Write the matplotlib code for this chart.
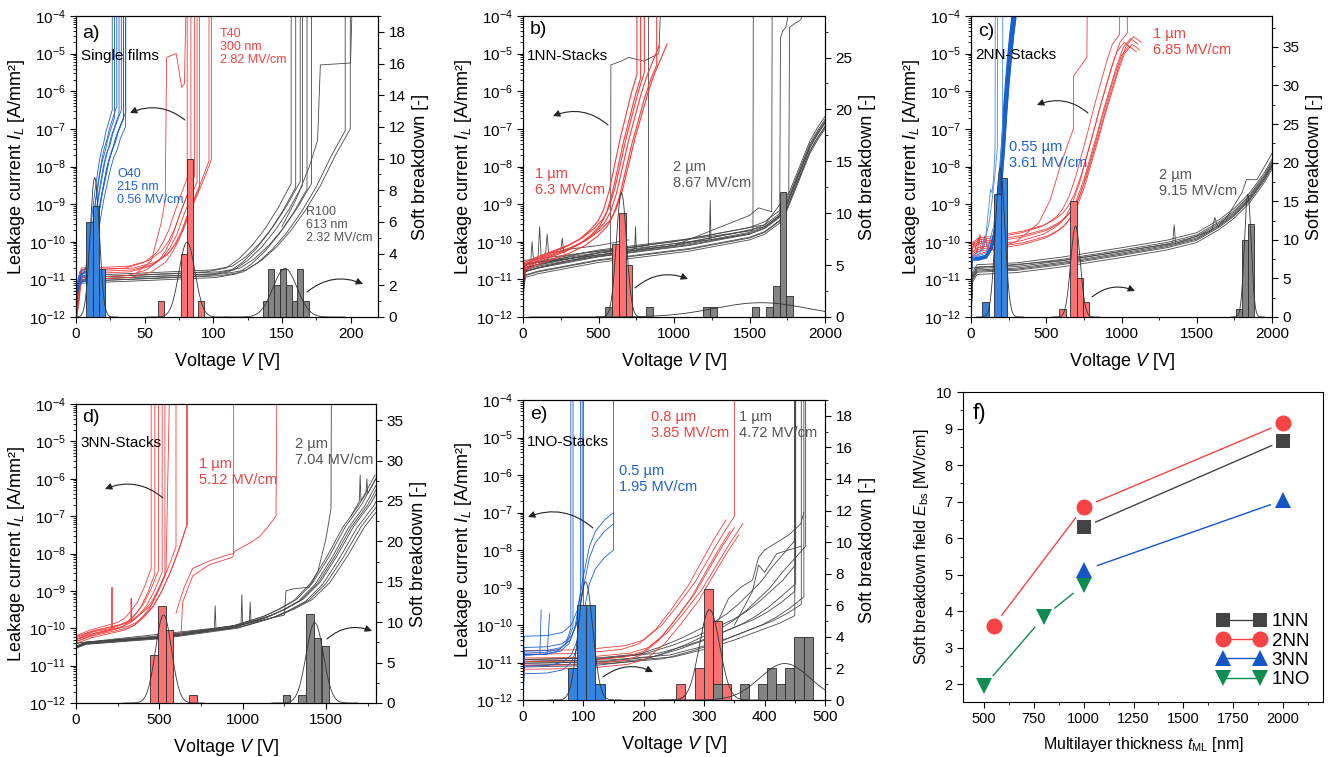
import numpy as np
import matplotlib
matplotlib.use("Agg")
import matplotlib.pyplot as plt
from matplotlib.lines import Line2D
from matplotlib.ticker import LogLocator, NullFormatter, MultipleLocator

plt.rcParams['font.family'] = ['Liberation Sans', 'DejaVu Sans']
plt.rcParams['mathtext.fontset'] = 'custom'
plt.rcParams['mathtext.rm'] = 'Liberation Sans'
plt.rcParams['mathtext.it'] = 'Liberation Sans:italic'
plt.rcParams['mathtext.bf'] = 'Liberation Sans:bold'

BLUE = '#1a5fd0'
RED = '#f23b3b'
GRAY = '#474747'
BLUE_T = '#1f62cc'
RED_T = '#f04040'
GRAY_T = '#555555'
BLUE_H = '#3584df'
RED_H = '#f87272'
GRAY_H = '#848484'

# ---------------- IV curves: base shape (V, log10 I), per-curve V-scale, offset, breakdown V
# a) single films
a_blue_v = [0, 1, 3, 8, 11, 13, 15, 17, 19, 21, 23, 25, 27, 30, 33]
a_blue_l = [-12.0, -11.3, -11.0, -10.9, -10.5, -9.9, -9.3, -8.8, -8.4, -8.0, -7.7, -7.5, -7.2, -6.9, -6.6]
a_blue_s = [0.8, 0.85, 0.9, 0.95, 1.0, 1.05, 1.1, 1.15, 1.2]
a_blue_d = [0.1, -0.1, 0.2, 0.0, 0.1, -0.1, 0.05, 0.15, -0.05]
a_blue_stop = [27, 30, 31, 33, 35, 36, 37, 37, 37]

a_red_v = [0, 2, 4, 20, 40, 55, 65, 70, 75, 80, 85, 90, 95, 100]
a_red_l = [-12.0, -11.5, -10.85, -10.83, -10.8, -10.65, -10.4, -10.15, -9.8, -9.3, -8.85, -8.4, -7.9, -7.35]
a_red_s = [0.9, 0.93, 0.96, 0.98, 1.0, 1.02, 1.04]
a_red_d = [0.1, -0.1, 0.15, 0.0, -0.15, 0.05, 0.1]
a_red_stop = [82, 84, 88, 91, 94, 97, 100]

a_gray_v = [0, 1, 4, 50, 100, 115, 125, 135, 145, 155, 165, 175, 185, 195]
a_gray_l = [-12.3, -11.2, -11.0, -10.93, -10.85, -10.75, -10.5, -10.15, -9.7, -9.15, -8.5, -7.7, -7.0, -6.5]
a_gray_s = [0.95, 0.97, 0.99, 1.0, 1.02, 1.04, 1.06, 1.08]
a_gray_d = [0.05, -0.05, 0.1, 0.0, -0.1, 0.05, -0.05, 0.0]
a_gray_stop = [160, 165, 170, 172, 176, 180, 200, 200]

a_extra_red = [([45, 55, 62, 65, 66, 73, 77, 79, 80], [-10.8, -10.5, -9.5, -8.9, -5.1, -5.0, -5.9, -5.8, -3.9])]
a_extra_gray = [([150, 160, 170, 176, 178, 200, 201], [-9.6, -8.9, -8.0, -7.3, -5.3, -5.25, -3.9])]

# b) 1NN
b_red_v = [0, 10, 100, 200, 300, 400, 480, 540, 580, 620, 660, 700, 740, 780, 820, 860, 900]
b_red_l = [-11.0, -10.65, -10.5, -10.35, -10.2, -10.0, -9.75, -9.5, -9.2, -8.7, -8.0, -7.3, -6.7, -6.1, -5.6, -5.2, -4.8]
b_red_s = [0.92, 0.95, 0.98, 1.0, 1.03, 1.06]
b_red_d = [0.05, -0.05, 0.1, 0.0, -0.1, 0.05]
b_red_stop = [790, 810, 830, None, 900, None]

b_gray_v = [0, 15, 100, 300, 500, 800, 1100, 1300, 1500, 1600, 1700, 1750, 1800, 1850, 1900, 1950, 2000]
b_gray_l = [-11.3, -10.8, -10.7, -10.55, -10.4, -10.25, -10.1, -9.95, -9.8, -9.65, -9.35, -9.0, -8.5, -8.0, -7.5, -7.15, -6.85]
b_gray_s = [1.0, 1.0, 1.0, 1.0, 1.0, 1.0, 1.0, 1.0]
b_gray_d = [-0.15, -0.08, 0.0, 0.05, 0.1, 0.18, -0.1, 0.02]
b_gray_stop = [None] * 8

b_extra_gray = [
    ([0, 300, 580, 582, 650, 700, 800, 900, 910], [-10.8, -10.5, -10.35, -5.3, -5.2, -5.1, -5.2, -5.0, -3.9]),
    ([0, 400, 830, 832], [-10.7, -10.3, -10.1, -3.9]),
    ([0, 800, 1523, 1525], [-10.6, -10.1, -9.7, -3.9]),
    ([0, 1000, 1500, 1560, 1600, 1647, 1650], [-10.6, -10.1, -9.3, -9.1, -9.15, -9.2, -3.9]),
    ([0, 1000, 1600, 1700, 1705, 1720, 1740, 1760], [-10.6, -10.1, -9.6, -9.3, -4.6, -4.4, -4.3, -3.9]),
    ([0, 1000, 1600, 1760, 1765, 1800, 1840, 1850], [-10.5, -10.0, -9.55, -8.7, -4.3, -4.2, -4.1, -3.9]),
    ([0, 50, 60, 70, 100, 110, 120, 150, 160, 170, 250, 260, 270, 300, 500, 700],
     [-10.9, -10.6, -10.0, -10.5, -10.4, -9.6, -10.4, -10.3, -9.8, -10.3, -10.25, -9.9, -10.3, -10.2, -10.1, -9.95]),
    ([0, 500, 740, 745, 750, 1000, 1235, 1240, 1245, 1500], [-10.7, -10.3, -10.2, -9.6, -10.2, -10.05, -9.95, -8.9, -9.95, -9.8]),
]

# c) 2NN
c_blue_v = [0, 4, 50, 100, 130, 150, 165, 180, 195, 210, 225, 240, 255, 270, 285]
c_blue_l = [-10.9, -10.45, -10.45, -10.4, -10.2, -9.95, -9.6, -9.1, -8.4, -7.6, -6.6, -5.8, -5.1, -4.5, -4.0]
c_blue_s = [0.96, 0.975, 0.99, 1.0, 1.01, 1.025, 1.04, 1.05]
c_blue_d = [0.0, 0.03, -0.03, 0.0, 0.02, -0.02, 0.0, 0.03]
c_blue_stop = [None] * 8

c_extra_blue = [
    ([0, 60, 100, 120, 130, 140, 150, 160, 161], [-10.5, -10.3, -9.8, -9.0, -8.6, -8.7, -8.3, -7.5, -3.9]),
    ([0, 80, 120, 140, 160, 175, 176], [-10.4, -10.2, -9.5, -8.9, -8.2, -7.5, -3.9]),
    ([0, 100, 150, 180, 200, 210, 211], [-10.45, -10.3, -9.6, -8.5, -7.6, -7.0, -3.9]),
]

c_red_v = [0, 4, 50, 150, 350, 500, 570, 620, 660, 700, 750, 800, 840, 880, 925, 970, 1010, 1060, 1110]
c_red_l = [-10.6, -10.2, -10.05, -10.0, -9.87, -9.7, -9.55, -9.4, -9.2, -8.9, -8.35, -7.65, -7.1, -6.5, -5.9, -5.3, -4.85, -4.6, -4.75]
c_red_s = [0.93, 0.96, 0.98, 1.0, 1.01, 1.02, 0.99]
c_red_d = [0.1, -0.1, 0.15, 0.0, -0.15, 0.05, -0.2]
c_red_stop = [1000, None, 1050, None, None, None, None]

c_extra_red = [
    ([0, 300, 450, 525, 600, 680, 681, 770, 772], [-10.4, -10.0, -9.5, -8.9, -7.9, -7.0, -5.6, -5.1, -3.9]),
    ([0, 20, 40, 60, 80, 100, 120, 140, 160, 180, 200], [-10.4, -10.0, -10.3, -9.8, -10.2, -9.9, -10.3, -9.9, -10.1, -9.8, -10.0]),
    ([0, 30, 50, 70, 90, 110, 130, 150, 170], [-10.3, -10.2, -9.9, -10.25, -9.85, -10.2, -9.95, -10.25, -10.0]),
]

c_gray_v = [0, 10, 40, 300, 600, 1000, 1300, 1500, 1650, 1750, 1850, 1950, 2000]
c_gray_l = [-12.0, -10.95, -10.75, -10.7, -10.55, -10.3, -10.1, -9.9, -9.55, -9.25, -8.85, -8.3, -7.95]
c_gray_s = [1.0] * 7
c_gray_d = [-0.12, -0.06, 0.0, 0.04, 0.08, 0.14, -0.03]
c_gray_stop = [None] * 7

c_extra_gray = [
    ([0, 600, 1340, 1350, 1360, 1600, 1620, 1630, 1640, 1700, 1800, 1830, 1900, 2000],
     [-10.7, -10.5, -10.05, -9.55, -10.05, -9.7, -9.35, -9.5, -9.6, -9.35, -8.7, -8.35, -8.35, -7.65]),
]

# d) 3NN
d_red_v = [0, 3, 100, 200, 300, 350, 400, 450, 500, 550, 600, 650, 700, 720]
d_red_l = [-11.3, -10.3, -10.15, -10.05, -9.95, -9.85, -9.65, -9.4, -9.0, -8.5, -7.9, -7.2, -6.4, -6.0]
d_red_s = [0.82, 0.86, 0.9, 0.94, 0.97, 1.0, 1.02, 1.03]
d_red_d = [0.1, -0.05, 0.05, 0.0, -0.1, 0.08, -0.05, 0.0]
d_red_stop = [460, 480, 500, 520, 560, 600, 700, 720]

d_extra_red = [
    ([0, 100, 215, 216, 217, 330, 331, 332, 450, 500, 540, 560], [-10.3, -10.1, -10.0, -8.9, -10.0, -9.8, -9.2, -9.8, -9.4, -8.9, -8.5, -3.9]),
    ([600, 620, 650, 700, 800, 900, 945, 946], [-9.6, -9.3, -8.9, -8.4, -8.2, -8.05, -8.0, -3.9]),
    ([630, 640, 700, 800, 940, 950, 1050, 1100, 1150, 1200, 1205], [-10.2, -9.3, -8.6, -8.3, -8.1, -7.95, -7.7, -7.55, -7.3, -7.0, -3.9]),
]

d_gray_v = [0, 3, 60, 500, 950, 1150, 1250, 1350, 1450, 1550, 1650, 1750, 1800, 1850]
d_gray_l = [-11.3, -10.5, -10.4, -10.25, -9.97, -9.7, -9.5, -9.25, -8.8, -8.1, -7.3, -6.7, -6.3, -5.9]
d_gray_s = [0.97, 0.98, 0.99, 1.0, 1.01, 1.02, 1.035, 1.05]
d_gray_d = [0.0, 0.02, -0.02, 0.0, 0.03, -0.03, 0.0, 0.02]
d_gray_stop = [None] * 8

d_extra_gray = [
    ([0, 500, 1000, 1250, 1260, 1300, 1400, 1450, 1500, 1530, 1532], [-10.4, -10.2, -9.9, -9.65, -9.0, -8.95, -8.9, -8.5, -7.6, -6.8, -3.9]),
    ([0, 830, 835, 840, 990, 995, 1000, 1040, 1045, 1050, 1200], [-10.4, -10.0, -9.4, -10.0, -9.9, -9.1, -9.9, -9.85, -9.3, -9.85, -9.6]),
    ([1650, 1700, 1705, 1710, 1740, 1745, 1750, 1800], [-7.0, -6.6, -5.9, -6.6, -6.4, -6.0, -6.4, -6.0]),
]

# e) 1NO
e_blue_v = [0, 2, 40, 65, 80, 90, 100, 110, 120, 135, 150]
e_blue_l = [-11.5, -10.8, -10.78, -10.7, -10.5, -10.1, -9.2, -8.4, -8.0, -7.7, -7.5]
e_blue_s = [0.88, 0.92, 0.95, 0.98, 1.0, 1.0, 1.0, 1.0]
e_blue_d = [0.0, 0.05, 0.0, 0.1, -0.3, 0.2, 0.5, -0.5]
e_blue_stop = [80, 85, 95, 100, 105, None, None, 150]

e_extra_blue = [
    ([0, 28, 30], [-10.8, -10.78, -9.6]),
    ([0, 40, 44], [-10.8, -10.78, -9.7]),
]

e_red_v = [0, 2, 100, 170, 200, 230, 255, 285, 310, 330, 350]
e_red_l = [-11.5, -10.98, -10.96, -10.85, -10.7, -10.3, -9.8, -9.15, -8.45, -7.9, -7.4]
e_red_s = [0.96, 0.98, 1.0, 1.0, 1.02, 1.04]
e_red_d = [0.2, -0.1, 0.0, 0.3, -0.2, 0.1]
e_red_stop = [None, None, None, 350, None, None]

e_gray_v = [0, 2, 150, 250, 300, 350, 400, 425, 450, 475, 500, 525, 550, 575, 600]
e_gray_l = [-11.5, -11.02, -10.98, -10.85, -10.65, -10.4, -10.1, -9.95, -9.75, -9.5, -9.2, -8.9, -8.5, -8.15, -7.8]
e_gray_s = [1.0, 0.97, 0.93, 0.9, 0.86, 0.82, 0.78, 0.75]
e_gray_d = [0.0, 0.05, -0.05, 0.1, 0.0, 0.1, -0.1, 0.05]
e_gray_stop = [470, 470, 465, 470, 465, 470, 468, 470]

e_extra_gray = [
    ([300, 320, 340, 360, 380, 390, 400, 420, 440, 460, 465], [-10.5, -10.0, -9.3, -9.0, -8.8, -8.2, -8.0, -7.8, -7.6, -7.3, -7.0]),
    ([350, 380, 390, 400, 420, 440, 460], [-10.0, -9.1, -8.4, -8.6, -8.1, -8.0, -7.9]),
]

# ---------------- Soft breakdown histograms: bin left edge, counts, bin width
a_blue_hist = ([7.6, 12.2, 16.8], [6, 7, 3], 4.6)
a_red_hist = ([59.5, 76.2, 80.6, 89.2], [1, 4, 10, 1], 4.3)
a_gray_hist = ([136, 140.2, 144.4, 148.6, 152.8, 157, 161.2, 165.4], [1, 3, 2, 3, 2, 1, 3, 1], 4.2)
b_red_hist = ([587, 633, 679], [7, 10, 5], 46)
b_gray_hist = ([541, 817, 1193, 1239, 1515, 1607, 1653, 1699, 1745], [1, 1, 1, 1, 1, 1, 3, 12, 2], 46)
c_blue_hist = ([75, 156, 198], [2, 16, 18], 42)
c_red_hist = ([588, 661, 702, 743], [1, 15, 5, 2], 41)
c_gray_hist = ([1763, 1801, 1840], [1, 10, 12], 39)
d_red_hist = ([443, 490, 537, 679], [6, 12, 9, 1], 47)
d_gray_hist = ([1239, 1333, 1380, 1426, 1473], [1, 1, 11, 8, 7], 46)
e_blue_hist = ([75, 90, 105, 120], [2, 6, 6, 1], 15)
e_red_hist = ([254, 284.5, 299.5, 314.5, 329.5], [1, 2, 7, 5, 1], 15)
e_gray_hist = ([314.5, 359, 389.5, 404.5, 419.5, 434.5, 449.5, 464.5], [1, 1, 1, 2, 1, 2, 4, 4], 15)

# ---------------- f) soft breakdown field vs multilayer thickness
nn1_t = [1000, 2000]
nn1_e = [6.3, 8.67]
nn2_t = [550, 1000, 2000]
nn2_e = [3.61, 6.85, 9.15]
nn3_t = [1000, 2000]
nn3_e = [5.12, 7.04]
no1_t = [500, 800, 1000]
no1_e = [1.95, 3.85, 4.72]

W, H = 1338, 757
fig = plt.figure(figsize=(W / 100, H / 100), dpi=100)


def rect(box):
    l, t, r, b = box
    return [l / W, 1 - b / H, (r - l) / W, (b - t) / H]


def frac(box, x, y):
    l, t, r, b = box
    return (x - l) / (r - l), (b - y) / (b - t)


def bundle(ax, v, l, scales, offs, stops, color, lw=0.6):
    v = np.asarray(v, float)
    l = np.asarray(l, float)
    for s, d, stop in zip(scales, offs, stops):
        x = v * s
        y = l + d
        if stop is not None:
            keep = x <= stop
            x = np.append(x[keep], x[keep][-1])
            y = np.append(y[keep], -3.9)
        ax.plot(x, 10.0 ** y, color=color, lw=lw)


def extras(ax, curves, color, lw=0.6):
    for x, y in curves:
        ax.plot(x, 10.0 ** np.asarray(y), color=color, lw=lw)


def hist(ax2, h, color):
    left, counts, width = h
    ax2.bar(left, counts, width=width, align='edge', color=color,
            edgecolor='#2a2a2a', lw=0.6, zorder=2)


def fit(ax2, h):
    left, counts, width = h
    c = np.asarray(left, float) + width / 2
    n = np.asarray(counts, float)
    mu = np.sum(c * n) / n.sum()
    sd = np.sqrt(np.sum(n * (c - mu) ** 2) / n.sum())
    xs = np.linspace(mu - 5 * sd, mu + 5 * sd, 300)
    ys = n.sum() * width / (sd * np.sqrt(2 * np.pi)) * np.exp(-0.5 * ((xs - mu) / sd) ** 2)
    ax2.plot(xs, ys, color='#333333', lw=0.6, zorder=3)


def iv_axes(box, xmax, xmaj, xmin, rmax, rmaj):
    ax = fig.add_axes(rect(box))
    ax.set_yscale('log')
    ax.set_ylim(1e-12, 1e-4)
    ax.set_xlim(0, xmax)
    ax.xaxis.set_major_locator(MultipleLocator(xmaj))
    ax.xaxis.set_minor_locator(MultipleLocator(xmin))
    ax.yaxis.set_major_locator(LogLocator(base=10, numticks=20))
    ax.yaxis.set_minor_locator(LogLocator(base=10, subs=np.arange(2, 10), numticks=100))
    ax.yaxis.set_minor_formatter(NullFormatter())
    ax.tick_params(which='both', labelsize=11, direction='out')
    ax.tick_params(which='major', length=4)
    ax.tick_params(which='minor', length=2)
    ax.set_xlabel('Voltage $V$ [V]', fontsize=13, labelpad=7)
    ax.set_ylabel('Leakage current $I_L$ [A/mm²]', fontsize=13, labelpad=1)
    ax2 = ax.twinx()
    ax2.set_ylim(0, rmax)
    ax2.yaxis.set_major_locator(MultipleLocator(rmaj))
    ax2.yaxis.set_minor_locator(MultipleLocator(rmaj / 2))
    ax2.tick_params(which='both', labelsize=11, direction='out')
    ax2.tick_params(which='major', length=4)
    ax2.tick_params(which='minor', length=2)
    ax2.set_ylabel('Soft breakdown [-]', fontsize=13, labelpad=5)
    return ax, ax2


def arrow(ax2, box, tail, head, rad):
    ax2.annotate('', xy=frac(box, *head), xytext=frac(box, *tail), xycoords='axes fraction',
                 arrowprops=dict(arrowstyle='-|>', color='#222222', lw=0.8,
                                 connectionstyle='arc3,rad=%s' % rad, mutation_scale=10,
                                 shrinkA=0, shrinkB=0), zorder=5)


def label(ax, box, x, y, s, color='black', size=10.5):
    ax.text(*frac(box, x, y), s, transform=ax.transAxes, color=color, fontsize=size,
            va='center', ha='left', linespacing=1.1, zorder=6)


# ---------------- a)
pa = (76, 16, 378, 317)
ax, ax2 = iv_axes(pa, 220, 50, 25, 19, 2)
bundle(ax, a_gray_v, a_gray_l, a_gray_s, a_gray_d, a_gray_stop, GRAY)
extras(ax, a_extra_gray, GRAY)
bundle(ax, a_red_v, a_red_l, a_red_s, a_red_d, a_red_stop, RED)
extras(ax, a_extra_red, RED)
bundle(ax, a_blue_v, a_blue_l, a_blue_s, a_blue_d, a_blue_stop, BLUE)
for h, c in [(a_blue_hist, BLUE_H), (a_red_hist, RED_H), (a_gray_hist, GRAY_H)]:
    hist(ax2, h, c)
    fit(ax2, h)
label(ax2, pa, 82, 33, 'a)', size=14)
label(ax2, pa, 81, 56, 'Single films', size=11)
label(ax2, pa, 220, 47, 'T40\n300 nm\n2.82 MV/cm', RED_T, 9)
label(ax2, pa, 117, 187, 'O40\n215 nm\n0.56 MV/cm', BLUE_T, 9)
label(ax2, pa, 306, 225, 'R100\n613 nm\n2.32 MV/cm', GRAY_T, 9)
arrow(ax2, pa, (185, 120), (130, 113), 0.3)
arrow(ax2, pa, (307, 292), (363, 284), -0.3)

# ---------------- b)
pb = (523, 16, 825, 317)
ax, ax2 = iv_axes(pb, 2000, 500, 250, 29, 5)
bundle(ax, b_gray_v, b_gray_l, b_gray_s, b_gray_d, b_gray_stop, GRAY)
extras(ax, b_extra_gray, GRAY)
bundle(ax, b_red_v, b_red_l, b_red_s, b_red_d, b_red_stop, RED, lw=0.8)
for h, c in [(b_red_hist, RED_H), (b_gray_hist, GRAY_H)]:
    hist(ax2, h, c)
    fit(ax2, h)
label(ax2, pb, 530, 30, 'b)', size=14)
label(ax2, pb, 527, 56, '1NN-Stacks', size=11)
label(ax2, pb, 535, 182, '1 µm\n6.3 MV/cm', RED_T)
label(ax2, pb, 673, 175, '2 µm\n8.67 MV/cm', GRAY_T)
arrow(ax2, pb, (608, 125), (553, 116), 0.3)
arrow(ax2, pb, (635, 288), (688, 279), -0.3)

# ---------------- c)
pc = (971, 16, 1272, 317)
ax, ax2 = iv_axes(pc, 2000, 500, 250, 39, 5)
bundle(ax, c_gray_v, c_gray_l, c_gray_s, c_gray_d, c_gray_stop, GRAY)
extras(ax, c_extra_gray, GRAY)
bundle(ax, c_red_v, c_red_l, c_red_s, c_red_d, c_red_stop, RED)
extras(ax, c_extra_red, RED)
bundle(ax, c_blue_v, c_blue_l, c_blue_s, c_blue_d, c_blue_stop, BLUE, lw=1.2)
extras(ax, c_extra_blue, '#4a86e0')
for h, c in [(c_blue_hist, BLUE_H), (c_red_hist, RED_H), (c_gray_hist, GRAY_H)]:
    hist(ax2, h, c)
    fit(ax2, h)
label(ax2, pc, 978, 32, 'c)', size=14)
label(ax2, pc, 975, 55, '2NN-Stacks', size=11)
label(ax2, pc, 1009, 155, '0.55 µm\n3.61 MV/cm', BLUE_T)
label(ax2, pc, 1153, 42, '1 µm\n6.85 MV/cm', RED_T)
label(ax2, pc, 1159, 183, '2 µm\n9.15 MV/cm', GRAY_T)
arrow(ax2, pc, (1088, 113), (1037, 105), 0.3)
arrow(ax2, pc, (1092, 297), (1135, 291), -0.3)

# ---------------- d)
pd_ = (76, 404, 376, 703)
ax, ax2 = iv_axes(pd_, 1800, 500, 250, 37, 5)
bundle(ax, d_gray_v, d_gray_l, d_gray_s, d_gray_d, d_gray_stop, GRAY)
extras(ax, d_extra_gray, GRAY)
bundle(ax, d_red_v, d_red_l, d_red_s, d_red_d, d_red_stop, RED)
extras(ax, d_extra_red, RED)
for h, c in [(d_red_hist, RED_H), (d_gray_hist, GRAY_H)]:
    hist(ax2, h, c)
    fit(ax2, h)
label(ax2, pd_, 82, 418, 'd)', size=14)
label(ax2, pd_, 80, 443, '3NN-Stacks', size=11)
label(ax2, pd_, 199, 472, '1 µm\n5.12 MV/cm', RED_T)
label(ax2, pd_, 295, 452, '2 µm\n7.04 MV/cm', GRAY_T)
arrow(ax2, pd_, (163, 498), (105, 489), 0.3)
arrow(ax2, pd_, (327, 639), (372, 631), -0.3)

# ---------------- e)
pe = (523, 400, 825, 700)
ax, ax2 = iv_axes(pe, 500, 100, 50, 19, 2)
bundle(ax, e_gray_v, e_gray_l, e_gray_s, e_gray_d, e_gray_stop, GRAY)
extras(ax, e_extra_gray, GRAY)
bundle(ax, e_red_v, e_red_l, e_red_s, e_red_d, e_red_stop, RED)
bundle(ax, e_blue_v, e_blue_l, e_blue_s, e_blue_d, e_blue_stop, BLUE)
extras(ax, e_extra_blue, BLUE)
for h, c in [(e_blue_hist, BLUE_H), (e_red_hist, RED_H), (e_gray_hist, GRAY_H)]:
    hist(ax2, h, c)
    fit(ax2, h)
label(ax2, pe, 530, 414, 'e)', size=14)
label(ax2, pe, 527, 442, '1NO-Stacks', size=11)
label(ax2, pe, 619, 479, '0.5 µm\n1.95 MV/cm', BLUE_T)
label(ax2, pe, 651, 425, '0.8 µm\n3.85 MV/cm', RED_T)
label(ax2, pe, 739, 425, '1 µm\n4.72 MV/cm', GRAY_T)
arrow(ax2, pe, (593, 528), (528, 517), 0.3)
arrow(ax2, pe, (603, 677), (653, 672), -0.3)

# ---------------- f)
pf = (963, 392, 1323, 702)
ax = fig.add_axes(rect(pf))


def marker_line(t, e, m, color, ms, lab, z=3):
    ax.plot(t, e, '-', color=color, lw=1, zorder=1)
    ax.plot(t, e, 'o', color='white', ms=ms + 7, mew=0, zorder=2)
    ax.plot(t, e, m, color=color, ms=ms, mew=0, zorder=z)
    return Line2D([], [], color=color, marker=m, ms=ms, mew=0, lw=1, label=lab)


handles = [
    marker_line(nn1_t, nn1_e, 's', '#444444', 10, '1NN'),
    marker_line(nn2_t, nn2_e, 'o', '#f74343', 11.5, '2NN'),
    marker_line(nn3_t, nn3_e, '^', '#1456c6', 12, '3NN', z=4),
    marker_line(no1_t, no1_e, 'v', '#0f8c52', 12, '1NO'),
]
ax.set_xlim(395, 2200)
ax.set_ylim(1.52, 10)
ax.xaxis.set_major_locator(MultipleLocator(250))
ax.xaxis.set_minor_locator(MultipleLocator(125))
ax.yaxis.set_major_locator(MultipleLocator(1))
ax.yaxis.set_minor_locator(MultipleLocator(0.5))
ax.tick_params(which='both', labelsize=10.5, direction='out')
ax.tick_params(which='major', length=4)
ax.tick_params(which='minor', length=2)
ax.set_xlabel(r'Multilayer thickness $t_\mathrm{ML}$ [nm]', fontsize=11.5, labelpad=6)
ax.set_ylabel(r'Soft breakdown field $E_\mathrm{bs}$ [MV/cm]', fontsize=11.5)
ax.legend(handles=handles, loc='lower right', bbox_to_anchor=(0.985, 0.02), frameon=False,
          fontsize=13.5, numpoints=2, handlelength=2.6, handletextpad=0.3,
          labelspacing=0.12, borderaxespad=0)
label(ax, pf, 973, 413, 'f)', size=16)

fig.savefig('out.png', dpi=100)
